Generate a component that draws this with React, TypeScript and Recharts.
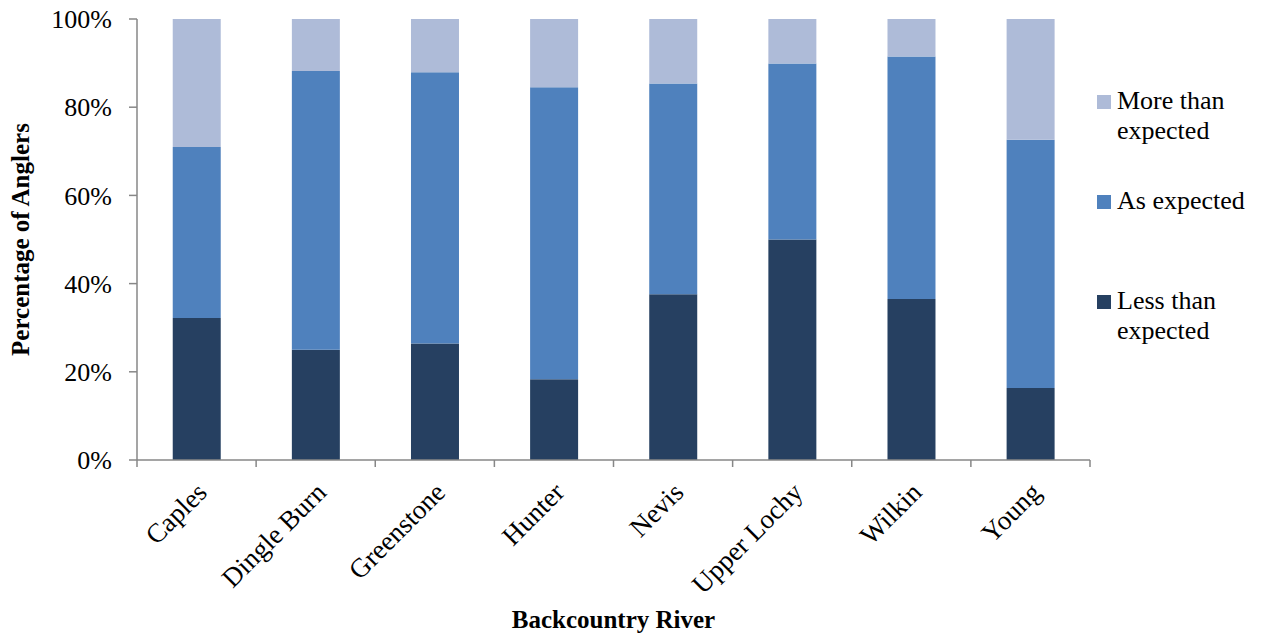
import React from 'react';
import { BarChart, Bar, XAxis, YAxis, Legend } from 'recharts';

const rivers = ['Caples', 'Dingle Burn', 'Greenstone', 'Hunter', 'Nevis', 'Upper Lochy', 'Wilkin', 'Young'];
const lessThanExpected = [32.2, 25.0, 26.4, 18.3, 37.6, 50.0, 36.5, 16.3];
const asExpected = [38.8, 63.2, 61.5, 66.2, 47.8, 39.9, 55.0, 56.3];
const moreThanExpected = [29.0, 11.8, 12.1, 15.5, 14.6, 10.1, 8.5, 27.4];
const yTicks = [0, 20, 40, 60, 80, 100];

const seriesNames = ['Less than expected', 'As expected', 'More than expected'];
const seriesColors = ['#264061', '#4F81BD', '#AEBBD8'];
const legendOrder = [2, 1, 0];

const data = rivers.map((r, i) => ({
  river: r,
  less: lessThanExpected[i],
  as: asExpected[i],
  more: moreThanExpected[i],
}));

const FONT = "'Liberation Serif', 'Times New Roman', serif";
const AXIS_GRAY = '#878787';

const XTick = (props: any) => {
  const { x, y, payload, index, width } = props;
  const bw = (typeof width === 'number' && width > 0 ? width : 953) / rivers.length;
  const ax = x + 12;
  const ay = y + 34;
  return (
    <g>
      <line x1={x - bw / 2} x2={x - bw / 2} y1={y} y2={y + 7} stroke={AXIS_GRAY} strokeWidth={1.5} />
      {index === rivers.length - 1 && (
        <line x1={x + bw / 2} x2={x + bw / 2} y1={y} y2={y + 7} stroke={AXIS_GRAY} strokeWidth={1.5} />
      )}
      <text
        x={ax}
        y={ay}
        transform={`rotate(-45, ${ax}, ${ay})`}
        textAnchor="end"
        fontFamily={FONT}
        fontSize={27}
        fill="#000"
      >
        {payload.value}
      </text>
    </g>
  );
};

const LegendContent = () => {
  return (
    <div style={{ position: 'relative', width: 166, height: 300, fontFamily: FONT }}>
      {legendOrder.map((si, i) => (
        <div key={i} style={{ position: 'absolute', left: 0, top: i * 100, width: 166 }}>
          <div
            style={{
              position: 'absolute',
              left: 0,
              top: 9,
              width: 14,
              height: 14,
              background: seriesColors[si],
            }}
          />
          <div
            style={{
              position: 'absolute',
              left: 20,
              top: 0,
              width: 146,
              fontSize: 26,
              lineHeight: '30px',
              color: '#000',
            }}
          >
            {seriesNames[si]}
          </div>
        </div>
      ))}
    </div>
  );
};

export default function App() {
  return (
    <div style={{ position: 'absolute', left: 0, top: 0, width: 1263, height: 635, background: '#fff' }}>
      <BarChart
        width={1263}
        height={635}
        data={data}
        margin={{ top: 19, right: 173, bottom: 0, left: 0 }}
        barCategoryGap="30%"
      >
        <XAxis
          dataKey="river"
          interval={0}
          height={175}
          tickSize={0}
          tickMargin={0}
          tickLine={false}
          axisLine={{ stroke: AXIS_GRAY, strokeWidth: 1.5 }}
          tick={<XTick />}
          label={{
            value: 'Backcountry River',
            position: 'insideBottom',
            offset: 7,
            style: { fontFamily: FONT, fontSize: 25, fontWeight: 'bold', fill: '#000' },
          }}
        />
        <YAxis
          width={137}
          domain={[0, 100]}
          ticks={yTicks}
          interval={0}
          tickFormatter={(v: number) => `${v}%`}
          tickSize={8}
          tickMargin={17}
          tickLine={{ stroke: AXIS_GRAY, strokeWidth: 1.5 }}
          axisLine={{ stroke: AXIS_GRAY, strokeWidth: 1.5 }}
          tick={{ fontFamily: FONT, fontSize: 26, fill: '#000' }}
          label={{
            value: 'Percentage of Anglers',
            angle: -90,
            position: 'insideLeft',
            offset: 20,
            style: { fontFamily: FONT, fontSize: 25, fontWeight: 'bold', fill: '#000', textAnchor: 'middle' },
          }}
        />
        <Legend
          layout="horizontal"
          align="center"
          verticalAlign="middle"
          content={<LegendContent />}
          wrapperStyle={{ left: 1097, top: 86, width: 166, height: 300 }}
        />
        <Bar dataKey="less" name={seriesNames[0]} stackId="a" fill={seriesColors[0]} isAnimationActive={false} />
        <Bar dataKey="as" name={seriesNames[1]} stackId="a" fill={seriesColors[1]} isAnimationActive={false} />
        <Bar dataKey="more" name={seriesNames[2]} stackId="a" fill={seriesColors[2]} isAnimationActive={false} />
      </BarChart>
    </div>
  );
}
